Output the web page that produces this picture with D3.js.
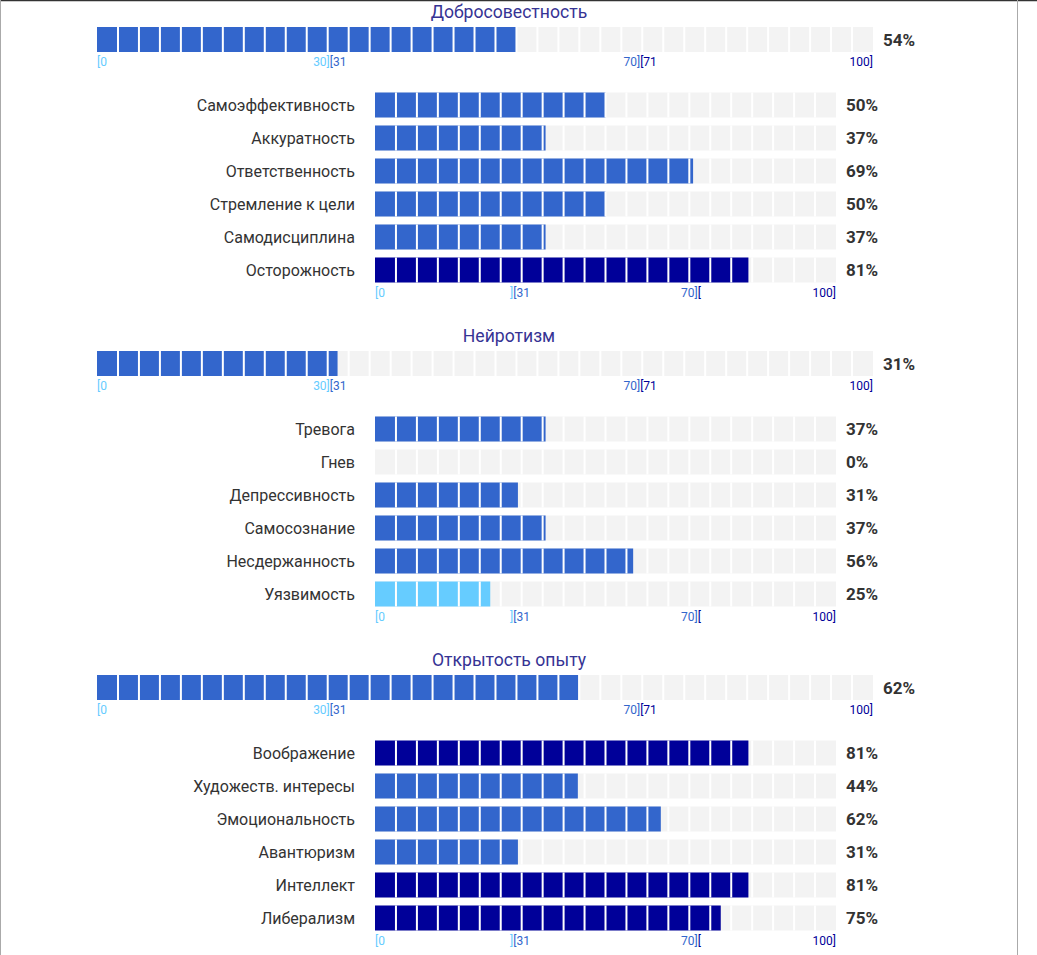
<!DOCTYPE html>
<html>
<head>
<meta charset="utf-8">
<script src="https://cdn.jsdelivr.net/npm/d3@7"></script>
<style>
  body { margin: 0; background: #fff; }
  svg { display: block; font-family: Roboto, "Noto Sans", sans-serif; }
</style>
</head>
<body>
<div id="chart"></div>
<script>
// data
const traits = ['Добросовестность', 'Нейротизм', 'Открытость опыту']
const traitValues = [54, 31, 62]
const facetNames = [
  ['Самоэффективность', 'Аккуратность', 'Ответственность', 'Стремление к цели', 'Самодисциплина', 'Осторожность'],
  ['Тревога', 'Гнев', 'Депрессивность', 'Самосознание', 'Несдержанность', 'Уязвимость'],
  ['Воображение', 'Художеств. интересы', 'Эмоциональность', 'Авантюризм', 'Интеллект', 'Либерализм']
]
const facetValues = [
  [50, 37, 69, 50, 37, 81],
  [37, 0, 31, 37, 56, 25],
  [81, 44, 62, 31, 81, 75]
]
// tick labels under the bars: [text, value, anchor, level]
const mainTicks = [['[0', 0, 'start', 0], ['30]', 30, 'end', 0], ['[31', 30, 'start', 1],
                   ['70]', 70, 'end', 1], ['[71', 70, 'start', 2], ['100]', 100, 'end', 2]]
const subTicks = [['[0', 0, 'start', 0], [']', 30, 'end', 0], ['[31', 30, 'start', 1],
                  ['70]', 70, 'end', 1], ['[', 70, 'start', 2], ['100]', 100, 'end', 2]]

// canvas
const width = 1037
const height = 955
const sectionH = 324
const levelColors = ['#66ccff', '#3366cc', '#000099']
const bgColor = '#f3f3f3'

const svg = d3.select('#chart').append('svg').attr('width', width).attr('height', height)

// page frame: dark top line, gray side lines
svg.append('line').attr('x1', 0).attr('x2', width).attr('y1', 0.5).attr('y2', 0.5)
  .attr('stroke', '#333').attr('stroke-width', 1.5)
svg.append('line').attr('x1', 0.5).attr('x2', 0.5).attr('y1', 0).attr('y2', height)
  .attr('stroke', '#aaa').attr('stroke-width', 1)
svg.append('line').attr('x1', 1017.5).attr('x2', 1017.5).attr('y1', 0).attr('y2', height)
  .attr('stroke', '#aaa').attr('stroke-width', 1)

// scales
const xMain = d3.scaleLinear().domain([0, 100]).range([97, 873])
const xSub = d3.scaleLinear().domain([0, 100]).range([375, 836])
// rows: 25px bars every 33px
const ySub = d3.scaleBand().domain(d3.range(6)).range([92.5, 282.5]).paddingInner(8 / 33).paddingOuter(0)

function colorFor(v) {
  if (v <= 30) return levelColors[0]
  if (v <= 70) return levelColors[1]
  return levelColors[2]
}

// a segmented bar: gray background, fill to the value, white cell lines on top
function drawBar(g, x, y, h, value, cells) {
  g.append('rect').attr('x', x(0)).attr('y', y).attr('width', x(100) - x(0)).attr('height', h)
    .attr('fill', bgColor)
  g.append('rect').attr('x', x(0)).attr('y', y).attr('width', x(value) - x(0)).attr('height', h)
    .attr('fill', colorFor(value))
  g.selectAll(null).data(d3.range(1, cells)).join('line')
    .attr('x1', d => x(d * 100 / cells)).attr('x2', d => x(d * 100 / cells))
    .attr('y1', y).attr('y2', y + h)
    .attr('stroke', '#fff').attr('stroke-width', 2)
}

function drawTicks(g, x, y, ticks) {
  g.selectAll(null).data(ticks).join('text')
    .attr('x', d => x(d[1])).attr('y', y)
    .attr('text-anchor', d => d[2])
    .attr('font-size', 12)
    .attr('fill', d => levelColors[d[3]])
    .text(d => d[0])
}

traits.forEach((name, s) => {
  const g = svg.append('g').attr('transform', `translate(0,${s * sectionH})`)
  // title
  g.append('text').text(name).attr('x', 509).attr('y', 18)
    .attr('text-anchor', 'middle').attr('font-size', 17.6).attr('fill', '#363394')
  // main bar
  drawBar(g, xMain, 27, 25, traitValues[s], 37)
  g.append('text').text(traitValues[s] + '%').attr('x', 883).attr('y', 46)
    .attr('font-size', 17).attr('font-weight', 'bold').attr('fill', '#333')
  drawTicks(g, xMain, 66, mainTicks)
  // facets
  facetNames[s].forEach((f, i) => {
    const y = ySub(i)
    const h = ySub.bandwidth()
    drawBar(g, xSub, y, h, facetValues[s][i], 22)
    g.append('text').text(f).attr('x', 355).attr('y', y + h / 2 + 5.5)
      .attr('text-anchor', 'end').attr('font-size', 16).attr('fill', '#333')
    g.append('text').text(facetValues[s][i] + '%').attr('x', 846).attr('y', y + h / 2 + 6)
      .attr('font-size', 17).attr('font-weight', 'bold').attr('fill', '#333')
  })
  drawTicks(g, xSub, 297, subTicks)
})
</script>
</body>
</html>
